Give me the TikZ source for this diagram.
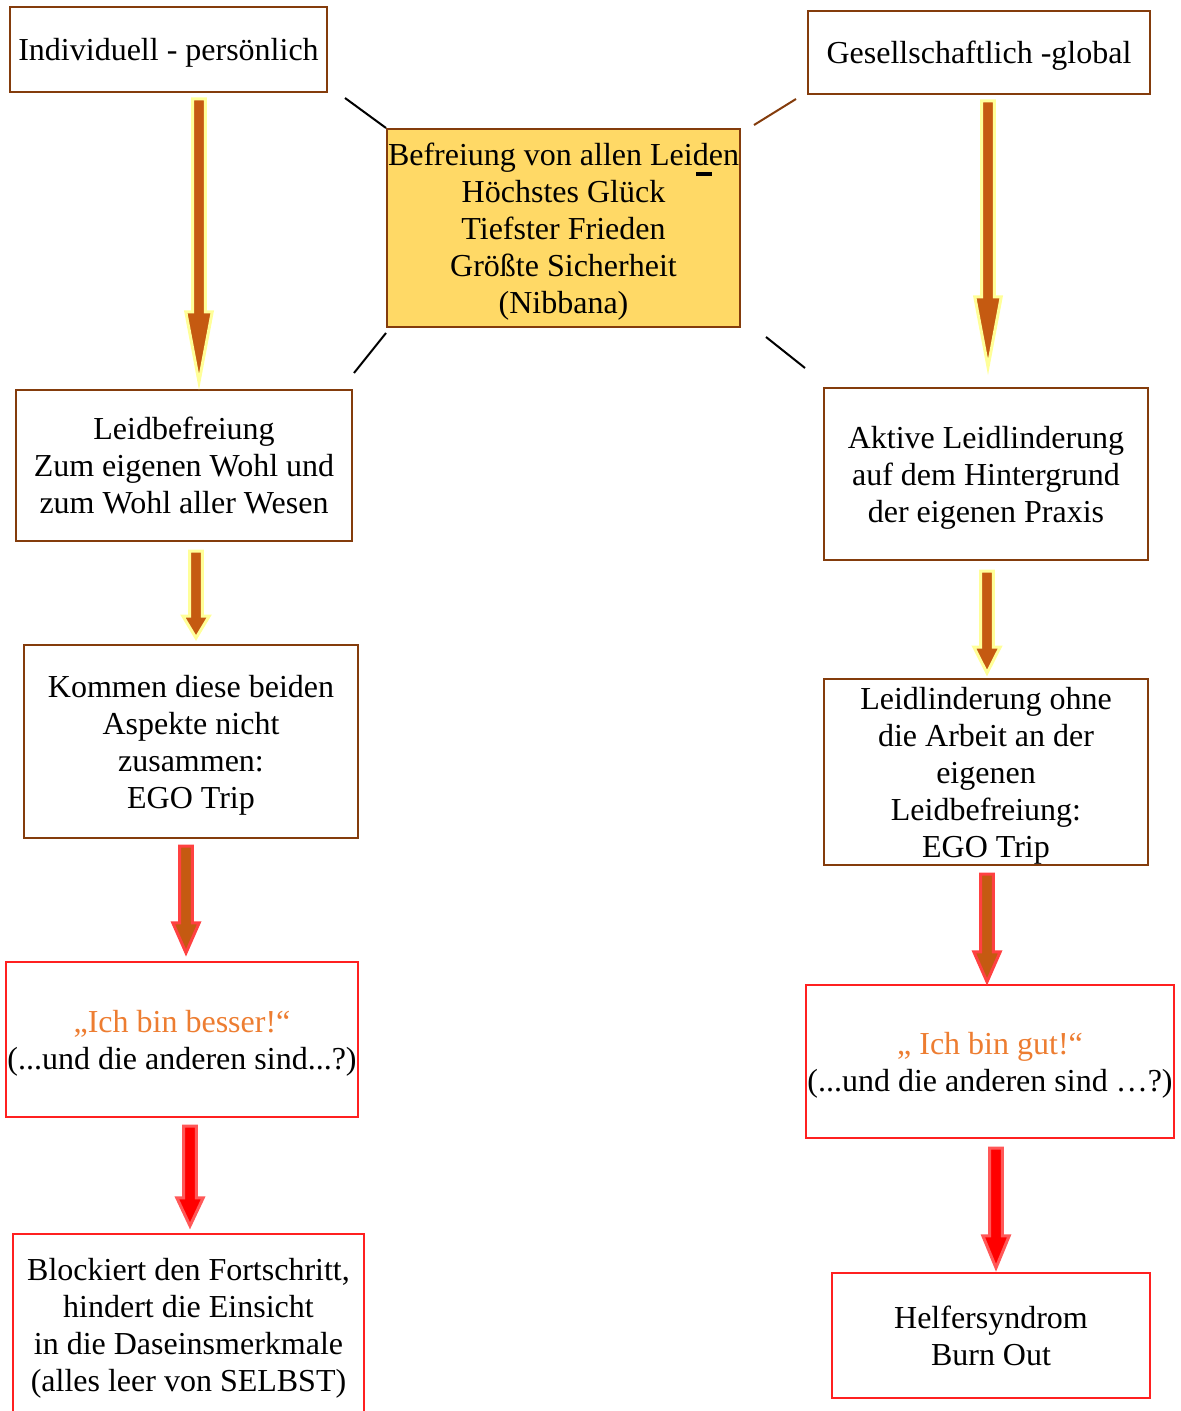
\documentclass[tikz,border=0pt]{standalone}
\usepackage{fontspec}
\setmainfont{Liberation Serif}
\usetikzlibrary{calc}

\definecolor{boxbrown}{HTML}{843C0C}
\definecolor{arrbrown}{HTML}{C55A11}
\definecolor{arrylw}{HTML}{FFFF99}
\definecolor{goldfill}{HTML}{FFD966}
\definecolor{quoteorange}{HTML}{ED7D31}
\definecolor{boxred}{HTML}{FF2020}

% vertical block arrow: style, from, to, head length
\newcommand{\blockarrow}[4][]{%
  \path[#1] let \p1=(#2), \p2=(#3) in
    (\x2-3.2pt,\y1) -- (\x2-3.2pt,\y2+#4) -- (\x2-6.6pt,\y2+#4) -- (\x2,\y2)
    -- (\x2+6.6pt,\y2+#4) -- (\x2+3.2pt,\y2+#4) -- (\x2+3.2pt,\y1) -- cycle;}

\begin{document}
\begin{tikzpicture}[x=0.5pt,y=-0.5pt]
        \tikzstyle{every node}+=[inner sep=0pt, align=center, text depth=0pt, font=\fontsize{16pt}{18.5pt}\selectfont]
        \tikzstyle{brownbox}=[draw=boxbrown, line width=1pt]
        \tikzstyle{goalbox}=[brownbox, fill=goldfill]
        \tikzstyle{redbox}=[draw=boxred, line width=1.2pt]
        \tikzstyle{arrowok}=[fill=arrbrown, draw=arrylw, line width=1.5pt]
        \tikzstyle{arrowwarn}=[fill=arrbrown, draw=boxred!85!white, line width=1.5pt]
        \tikzstyle{arrowbad}=[fill=red, draw=boxred!75!white, line width=1.5pt]
        \useasboundingbox (0,0) rectangle (1180,1411);

        \node [brownbox, minimum width=158.5pt, minimum height=42.5pt] (indiv) at (168.5,49.5) {Individuell - persönlich};
        \node [brownbox, minimum width=171pt, minimum height=41.5pt] (global) at (979,52.5) {Gesellschaftlich -global};
        \node [goalbox, minimum width=176.5pt, minimum height=99pt] (goal) at (563.5,228)
              {Befreiung von allen Leiden\\Höchstes Glück\\Tiefster Frieden\\Größte Sicherheit\\(Nibbana)};
        \draw [line width=2pt] ($(goal.north west)+(310,46)$) -- ++(16,0);

        \node [brownbox, minimum width=168pt, minimum height=75.5pt] (leidbef) at (184,465.5)
              {Leidbefreiung\\Zum eigenen Wohl und\\zum Wohl aller Wesen};
        \node [brownbox, minimum width=162pt, minimum height=86pt] (aktiv) at (986,474)
              {Aktive Leidlinderung\\auf dem Hintergrund\\der eigenen Praxis};
        \node [brownbox, minimum width=167pt, minimum height=96.5pt] (kommen) at (191,741.5)
              {Kommen diese beiden\\Aspekte nicht\\zusammen:\\EGO Trip};
        \node [brownbox, minimum width=162pt, minimum height=93pt] (ohne) at (986,772)
              {Leidlinderung ohne\\die Arbeit an der\\eigenen\\Leidbefreiung:\\EGO Trip};
        \node [redbox, minimum width=176pt, minimum height=77.5pt] (besser) at (182,1039.5)
              {\textcolor{quoteorange}{„Ich bin besser!“}\\(...und die anderen sind...?)};
        \node [redbox, minimum width=184pt, minimum height=76.5pt] (gut) at (990,1061.5)
              {\textcolor{quoteorange}{„ Ich bin gut!“}\\(...und die anderen sind …?)};
        \node [redbox, minimum width=175.5pt, minimum height=91pt] (block) at (188.5,1325)
              {Blockiert den Fortschritt,\\hindert die Einsicht\\in die Daseinsmerkmale\\(alles leer von SELBST)};
        \node [redbox, minimum width=159pt, minimum height=62.5pt] (helfer) at (991,1335.5)
              {Helfersyndrom\\Burn Out};

        \draw [line width=1pt] ($(indiv.south east)+(17,5)$) -- (goal.north west);
        \draw [boxbrown, line width=1pt] ($(goal.north east)+(13,-3)$) -- ($(global.south west)+(-11,4)$);
        \draw [line width=1pt] ($(goal.south west)+(0,5)$) -- ($(leidbef.north east)+(1,-16)$);
        \draw [line width=1pt] ($(goal.south east)+(25,9)$) -- ($(aktiv.north west)+(-18,-19)$);

        \blockarrow[arrowok]{$(indiv.south)+(30.5,6)$}{$(leidbef.north)+(15,-7)$}{35pt}
        \blockarrow[arrowok]{$(global.south)+(9,6)$}{$(aktiv.north)+(2,-20)$}{35pt}
        \blockarrow[arrowok]{$(leidbef.south)+(12,9)$}{$(kommen.north)+(5,-6)$}{11pt}
        \blockarrow[arrowok]{$(aktiv.south)+(1,10)$}{$(ohne.north)+(1,-5)$}{13pt}
        \blockarrow[arrowwarn]{$(kommen.south)+(-5,7)$}{$(besser.north)+(4,-8)$}{15pt}
        \blockarrow[arrowwarn]{$(ohne.south)+(1,8)$}{$(gut.north)+(-3,-2)$}{15pt}
        \blockarrow[arrowbad]{$(besser.south)+(8,8)$}{$(block.north)+(1.5,-7)$}{14pt}
        \blockarrow[arrowbad]{$(gut.south)+(6,9)$}{$(helfer.north)+(5,-4)$}{16pt}
\end{tikzpicture}
\end{document}
